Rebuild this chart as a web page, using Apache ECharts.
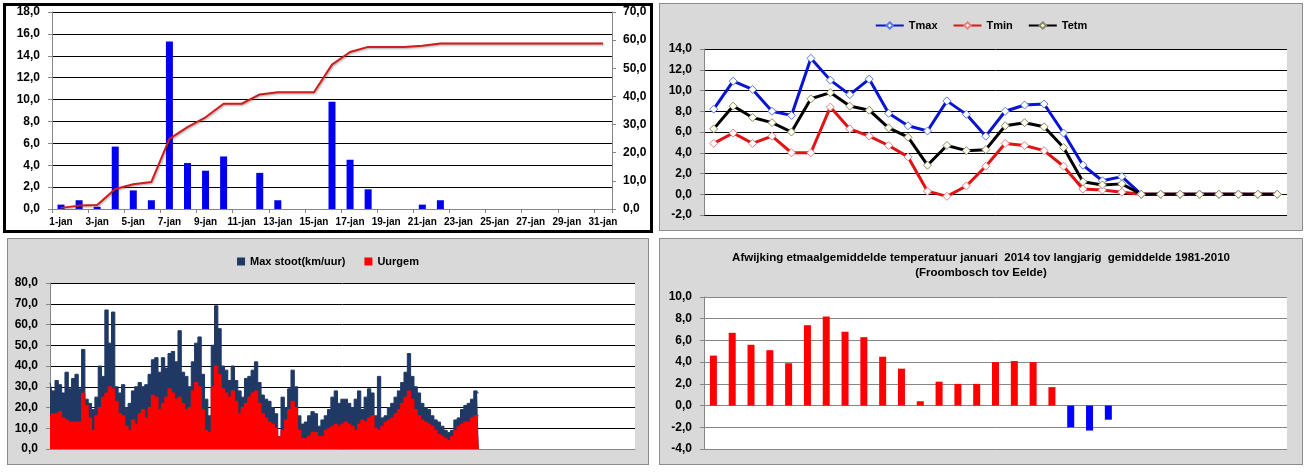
<!DOCTYPE html>
<html>
<head>
<meta charset="utf-8">
<script src="https://cdn.jsdelivr.net/npm/echarts@6/dist/echarts.min.js"></script>
<style>
  html, body { margin:0; padding:0; background:#fff; width:1313px; height:472px; overflow:hidden; }
  .p { position:absolute; box-sizing:border-box; }
  #c1 { left:3px; top:3px; width:650px; height:230px; border:3px solid #000; background:#fff; }
  #c2 { left:659px; top:3px; width:644px; height:228px; border:1px solid #8c8c8c; background:#d9d9d9; }
  #c3 { left:7px; top:238px; width:642px; height:227px; border:1px solid #8c8c8c; background:#d9d9d9; }
  #c4 { left:659px; top:238px; width:644px; height:227px; border:1px solid #8c8c8c; background:#d9d9d9; }
</style>
</head>
<body>
<div id="c1" class="p"></div>
<div id="c2" class="p"></div>
<div id="c3" class="p"></div>
<div id="c4" class="p"></div>
<script>
// ---------- data ----------
const days = ['1-jan','2-jan','3-jan','4-jan','5-jan','6-jan','7-jan','8-jan','9-jan','10-jan',
  '11-jan','12-jan','13-jan','14-jan','15-jan','16-jan','17-jan','18-jan','19-jan','20-jan',
  '21-jan','22-jan','23-jan','24-jan','25-jan','26-jan','27-jan','28-jan','29-jan','30-jan','31-jan'];

// panel 1: daily precipitation (mm) and cumulative (mm)
const rainDay = [0.4,0.8,0.2,5.7,1.7,0.8,15.3,4.2,3.5,4.8,0,3.3,0.8,0,0,9.8,4.5,1.8,0,0,0.4,0.8,0,0,0,0,0,0,0,0,0];
const rainCum = [0.4,1.2,1.4,7.1,8.8,9.6,24.9,29.1,32.6,37.4,37.4,40.7,41.5,41.5,41.5,51.3,55.8,57.6,57.6,57.6,58.0,58.8,58.8,58.8,58.8,58.8,58.8,58.8,58.8,58.8,58.8];

// panel 2: temperatures
const tempDays = days.slice(0, 30);
const tmax = [8.2,10.9,10.1,8.0,7.6,13.1,11.0,9.6,11.1,7.8,6.6,6.1,9.0,7.7,5.6,8.0,8.6,8.7,5.9,2.8,1.3,1.7,0,0,0,0,0,0,0,0];
const tmin = [4.9,5.9,4.9,5.6,4.0,4.0,8.4,6.3,5.6,4.7,3.6,0.3,-0.2,0.8,2.7,4.9,4.7,4.2,2.7,0.5,0.4,0.2,0,0,0,0,0,0,0,0];
const tetm = [6.3,8.5,7.4,6.9,6.0,9.2,9.8,8.5,8.1,6.4,5.5,2.8,4.7,4.2,4.3,6.6,6.9,6.5,4.5,1.2,0.9,1.0,0,0,0,0,0,0,0,0];

// panel 3: wind (km/uur), sampled along the month
const windSlots = 177;
const gust = [32,28,33,31,27,37,29,34,36,29,
  48,24,22,19,25,40,35,67,51,66,
  30,27,31,20,22,28,30,32,30,31,
  36,43,44,37,44,39,46,47,42,57,
  37,35,30,42,51,54,36,24,16,50,
  69,58,40,38,33,40,33,28,25,34,
  35,38,42,32,26,24,
  23,20,17,6,25,20,29,38,30,16,
  12,13,16,18,17,11,14,16,19,25,
  28,22,24,24,22,20,24,28,19,25,
  29,27,16,35,15,16,20,22,25,28,
  32,37,46,35,30,27,22,20,19,16,
  14,13,11,9,8,9,14,15,19,21,
  22,24,28,27];
const hourMean = [16,17,17,18,15,14,13,13,13,13,
  27,21,15,9,16,20,25,27,30,29,
  23,17,16,11,9,14,12,17,19,15,
  20,26,25,19,22,25,29,27,24,25,
  22,19,20,28,32,30,19,9,8,30,
  40,36,29,27,25,28,23,17,20,22,
  25,27,28,22,17,15,
  13,12,10,6,9,14,19,23,20,9,
  5,5,6,8,8,6,6,9,10,11,
  12,11,12,13,12,11,9,12,14,13,
  15,16,10,9,11,13,14,15,17,19,
  22,25,28,24,19,16,14,13,12,11,
  9,7,6,5,4,6,9,11,12,13,
  13,15,16,16];

// panel 4: deviation of daily mean temperature
const deviation = [4.6,6.7,5.6,5.1,3.9,7.4,8.2,6.8,6.3,4.5,3.4,0.4,2.2,2.0,2.0,4.0,4.1,4.0,1.7,-2.0,-2.3,-1.3,null,null,null,null,null,null,null,null,null];
const title4 = 'Afwijking etmaalgemiddelde temperatuur januari  2014 tov langjarig  gemiddelde 1981-2010\n(Froombosch tov Eelde)';

// ---------- styling helpers ----------
const FF = "'Liberation Sans', Arial, sans-serif";
const fmt = v => v.toFixed(1).replace('.', ',');
const yLabel = { color:'#000', fontWeight:'bold', fontSize:12, fontFamily:FF, formatter:fmt, margin:12 };
const grayLine = { show:true, lineStyle:{ color:'#868686', width:1 } };
const grayTick = { show:true, length:4, lineStyle:{ color:'#868686' } };

// ---------- panel 1 ----------
const ch1 = echarts.init(document.getElementById('c1'));
ch1.setOption({
  animation:false,
  grid:{ left:46, right:38, top:6, bottom:21 },
  xAxis:{ type:'category', data:days, boundaryGap:true,
    axisLine:grayLine, axisTick:{ show:true, interval:1, length:4, lineStyle:{color:'#868686'} },
    axisLabel:{ interval:1, margin:8, color:'#000', fontWeight:'bold', fontSize:10, fontFamily:FF } },
  yAxis:[
    { type:'value', min:0, max:18, interval:2, axisLine:grayLine, axisTick:grayTick,
      splitLine:{ lineStyle:{ color:'#000', width:1 } }, axisLabel:yLabel },
    { type:'value', min:0, max:70, interval:10, position:'right', axisLine:grayLine, axisTick:grayTick,
      splitLine:{ show:false }, axisLabel:Object.assign({}, yLabel, { margin:11 }) }
  ],
  series:[
    { type:'bar', data:rainDay, barWidth:7, itemStyle:{ color:'#0000ee' } },
    { type:'line', yAxisIndex:1, data:rainCum, symbol:'none',
      lineStyle:{ color:'#d01c1c', width:2, shadowColor:'rgba(0,0,0,0.35)', shadowBlur:2, shadowOffsetX:1, shadowOffsetY:1 } }
  ]
});

// ---------- panel 2 ----------
const ch2 = echarts.init(document.getElementById('c2'));
function tline(name, data, col, fill, border) {
  return { name, type:'line', data, symbol:'diamond', symbolSize:8,
    lineStyle:{ color:col, width:3 }, itemStyle:{ color:fill, borderColor:border, borderWidth:1 } };
}
ch2.setOption({
  animation:false,
  legend:{ top:11, left:'center', itemWidth:28, itemHeight:8, itemGap:15,
    textStyle:{ color:'#000', fontWeight:'bold', fontSize:11, fontFamily:FF },
    data:['Tmax','Tmin','Tetm'] },
  grid:{ left:44, right:15, top:45, bottom:15, show:true, backgroundColor:'#fff', borderWidth:0 },
  xAxis:{ type:'category', data:tempDays, boundaryGap:true, axisLine:{show:false}, axisTick:{show:false}, axisLabel:{show:false} },
  yAxis:{ type:'value', min:-2, max:14, interval:2, axisLine:grayLine, axisTick:grayTick,
    splitLine:{ lineStyle:{ color:'#000', width:1 } }, axisLabel:yLabel },
  series:[
    tline('Tmax', tmax, '#0a14d2', '#ffffff', '#5a78e6'),
    tline('Tmin', tmin, '#e01414', '#ffffff', '#e88080'),
    tline('Tetm', tetm, '#000000', '#fffff0', '#8a8a6a')
  ]
});

// ---------- panel 3 ----------
const ch3 = echarts.init(document.getElementById('c3'));
const slotLabels = Array.from({ length: windSlots }, (_, i) => String(i));
ch3.setOption({
  animation:false,
  legend:{ top:12, left:'center', icon:'rect', itemWidth:8, itemHeight:8, itemGap:19,
    textStyle:{ color:'#000', fontWeight:'bold', fontSize:11, fontFamily:FF },
    data:['Max stoot(km/uur)','Uurgem'] },
  grid:{ left:42, right:13, top:44, bottom:15, show:true, backgroundColor:'#fff', borderWidth:0 },
  xAxis:{ type:'category', data:slotLabels, boundaryGap:false, axisLine:grayLine, axisTick:{show:false}, axisLabel:{show:false} },
  yAxis:{ type:'value', min:0, max:80, interval:10, axisLine:grayLine, axisTick:grayTick,
    splitLine:{ lineStyle:{ color:'#000', width:1 } }, axisLabel:yLabel },
  series:[
    { name:'Max stoot(km/uur)', type:'line', data:gust, symbol:'none', step:'middle',
      lineStyle:{ width:1, color:'#1f3864' }, itemStyle:{ color:'#1f3864' }, areaStyle:{ color:'#1f3864', opacity:1 } },
    { name:'Uurgem', type:'line', data:hourMean, symbol:'none', step:'middle',
      lineStyle:{ width:1, color:'#ff0000' }, itemStyle:{ color:'#ff0000' }, areaStyle:{ color:'#ff0000', opacity:1 } }
  ]
});

// ---------- panel 4 ----------
const ch4 = echarts.init(document.getElementById('c4'));
ch4.setOption({
  animation:false,
  graphic:[{ type:'text', left:'center', top:11,
    style:{ text:title4, textAlign:'center', fill:'#000', font:"bold 11.5px 'Liberation Sans', Arial, sans-serif", lineHeight:15 } }],
  grid:{ left:44, right:15, top:58, bottom:15, show:true, backgroundColor:'#fff', borderWidth:0 },
  xAxis:{ type:'category', data:days, boundaryGap:true, axisLine:{ show:false }, axisTick:{show:false}, axisLabel:{show:false} },
  yAxis:{ type:'value', min:-4, max:10, interval:2, axisLine:grayLine, axisTick:grayTick,
    splitLine:{ lineStyle:{ color:'#868686', width:1 } }, axisLabel:yLabel },
  series:[
    { type:'bar', data:deviation, barWidth:7,
      itemStyle:{ color: p => (p.value < 0 ? '#0000ff' : '#ff0000') } }
  ]
});
</script>
</body>
</html>
